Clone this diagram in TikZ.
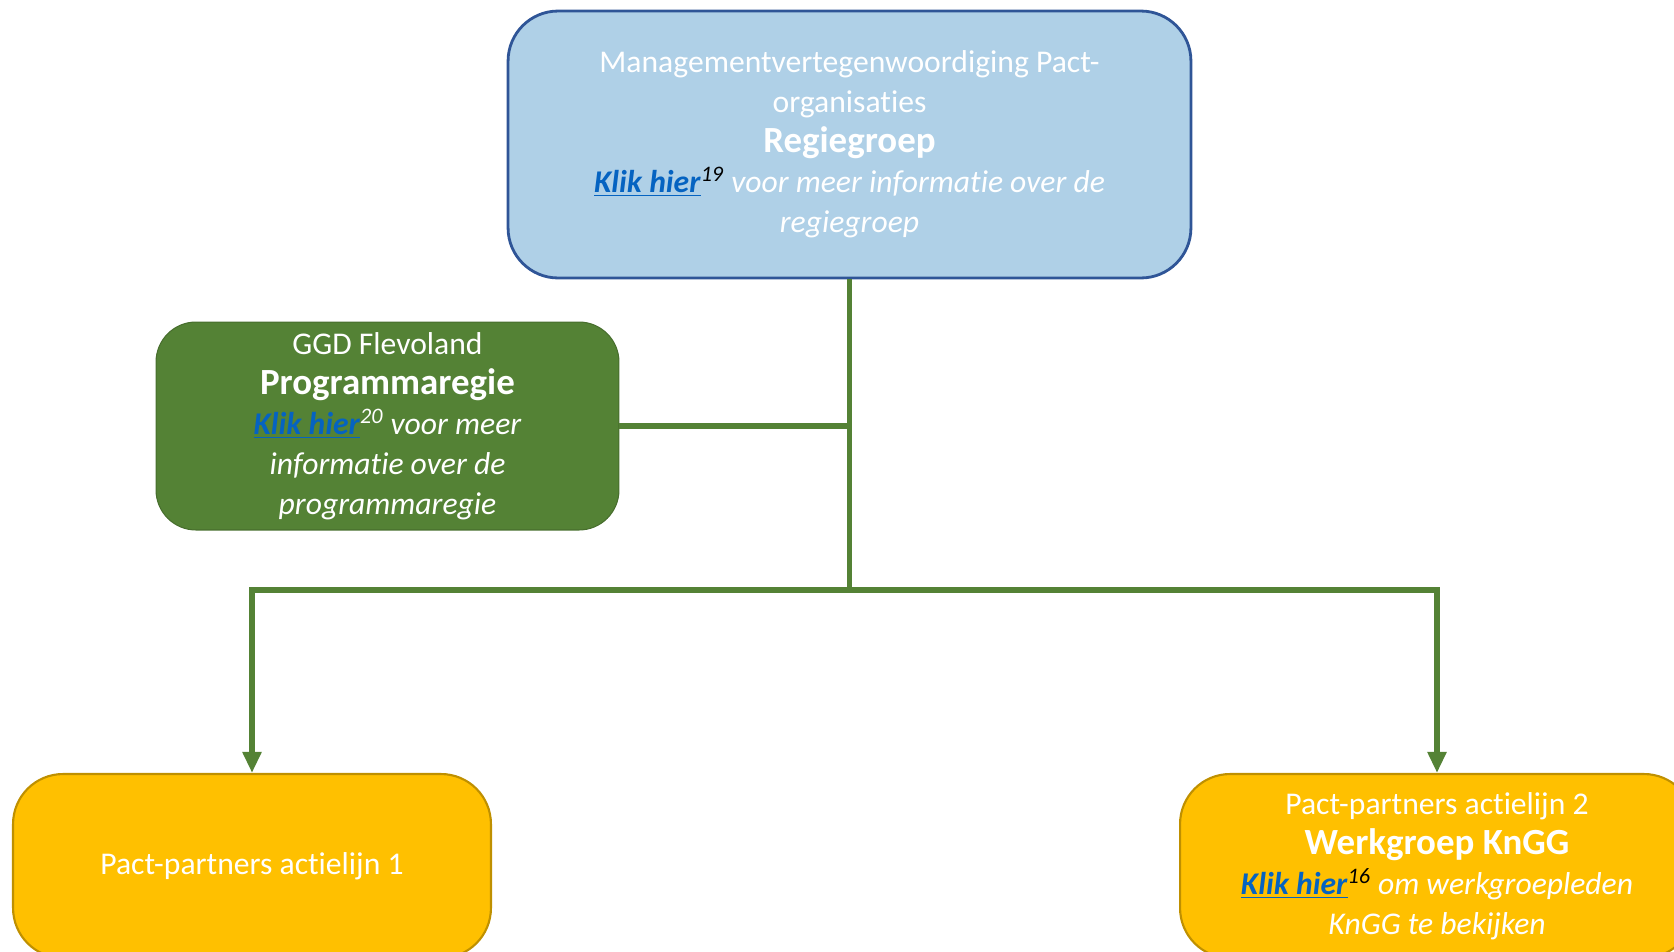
\documentclass[tikz,border=0pt]{standalone}
\usepackage{fontspec}
\setmainfont{Carlito}[Ligatures=NoCommon]
\usetikzlibrary{arrows.meta, positioning}
\definecolor{regieBlue}{HTML}{AFD0E7}
\definecolor{regieEdge}{HTML}{2F5597}
\definecolor{progGreen}{HTML}{548235}
\definecolor{lijnYellow}{HTML}{FFC000}
\definecolor{lijnEdge}{HTML}{BF9000}
\definecolor{linkBlue}{HTML}{0563C1}
\newcommand{\kop}{\fontsize{21}{25}\selectfont\bfseries}
\newcommand{\klikhier}[2]{\textcolor{linkBlue}{\underline{\textbf{\textit{Klik hier}}}}\textsuperscript{\textcolor{#2}{\textit{#1}}}}

\begin{document}
\begin{tikzpicture}[x=0.02cm, y=-0.02cm,
    box/.style={rounded corners=1cm, align=center, text=white, inner sep=0pt,
      font=\fontsize{18}{22.8}\selectfont},
    regiebox/.style={box, draw=regieEdge, line width=1.6pt, fill=regieBlue,
      minimum width=13.66cm, minimum height=5.34cm},
    progbox/.style={box, rounded corners=0.8cm, draw=progGreen!85!black, line width=0.6pt,
      fill=progGreen, minimum width=9.26cm, minimum height=4.16cm},
    lijnbox/.style={box, draw=lijnEdge, line width=1.2pt, fill=lijnYellow,
      minimum height=3.68cm},
    conn/.style={draw=progGreen, line width=3.4pt},
    arrow/.style={conn, -{Triangle[length=0.42cm, width=0.36cm]}}]
  \useasboundingbox (0,0) rectangle (1674,951);
  \clip (0,0) rectangle (1674,951);

  \node[regiebox] (regie) at (849.5,144.5)
    {Managementvertegenwoordiging Pact-\\organisaties\\{\kop Regiegroep}\\
     \klikhier{19}{black} \textit{voor meer informatie over de}\\\textit{regiegroep}};
  \node[progbox] (prog) at (387.5,426)
    {GGD Flevoland\\{\kop Programmaregie}\\\klikhier{20}{white} \textit{voor meer}\\
     \textit{informatie over de}\\\textit{programmaregie}};
  \node[lijnbox, minimum width=9.56cm] (actie1) at (252,866) {Pact-partners actielijn 1};
  \node[lijnbox, minimum width=10.28cm] (actie2) at (1437,866)
    {Pact-partners actielijn 2\\{\kop Werkgroep KnGG}\\
     \klikhier{16}{black} \textit{om werkgroepleden}\\\textit{KnGG te bekijken}};

  % connectors
  \coordinate (split) at (849.5,590);
  \draw[conn] (regie.south) -- (split);
  \draw[conn] (prog.east) -- (prog.east -| regie.south);
  \draw[arrow] (split) -| (actie1.north);
  \draw[arrow] (split) -| (actie2.north);
\end{tikzpicture}
\end{document}
